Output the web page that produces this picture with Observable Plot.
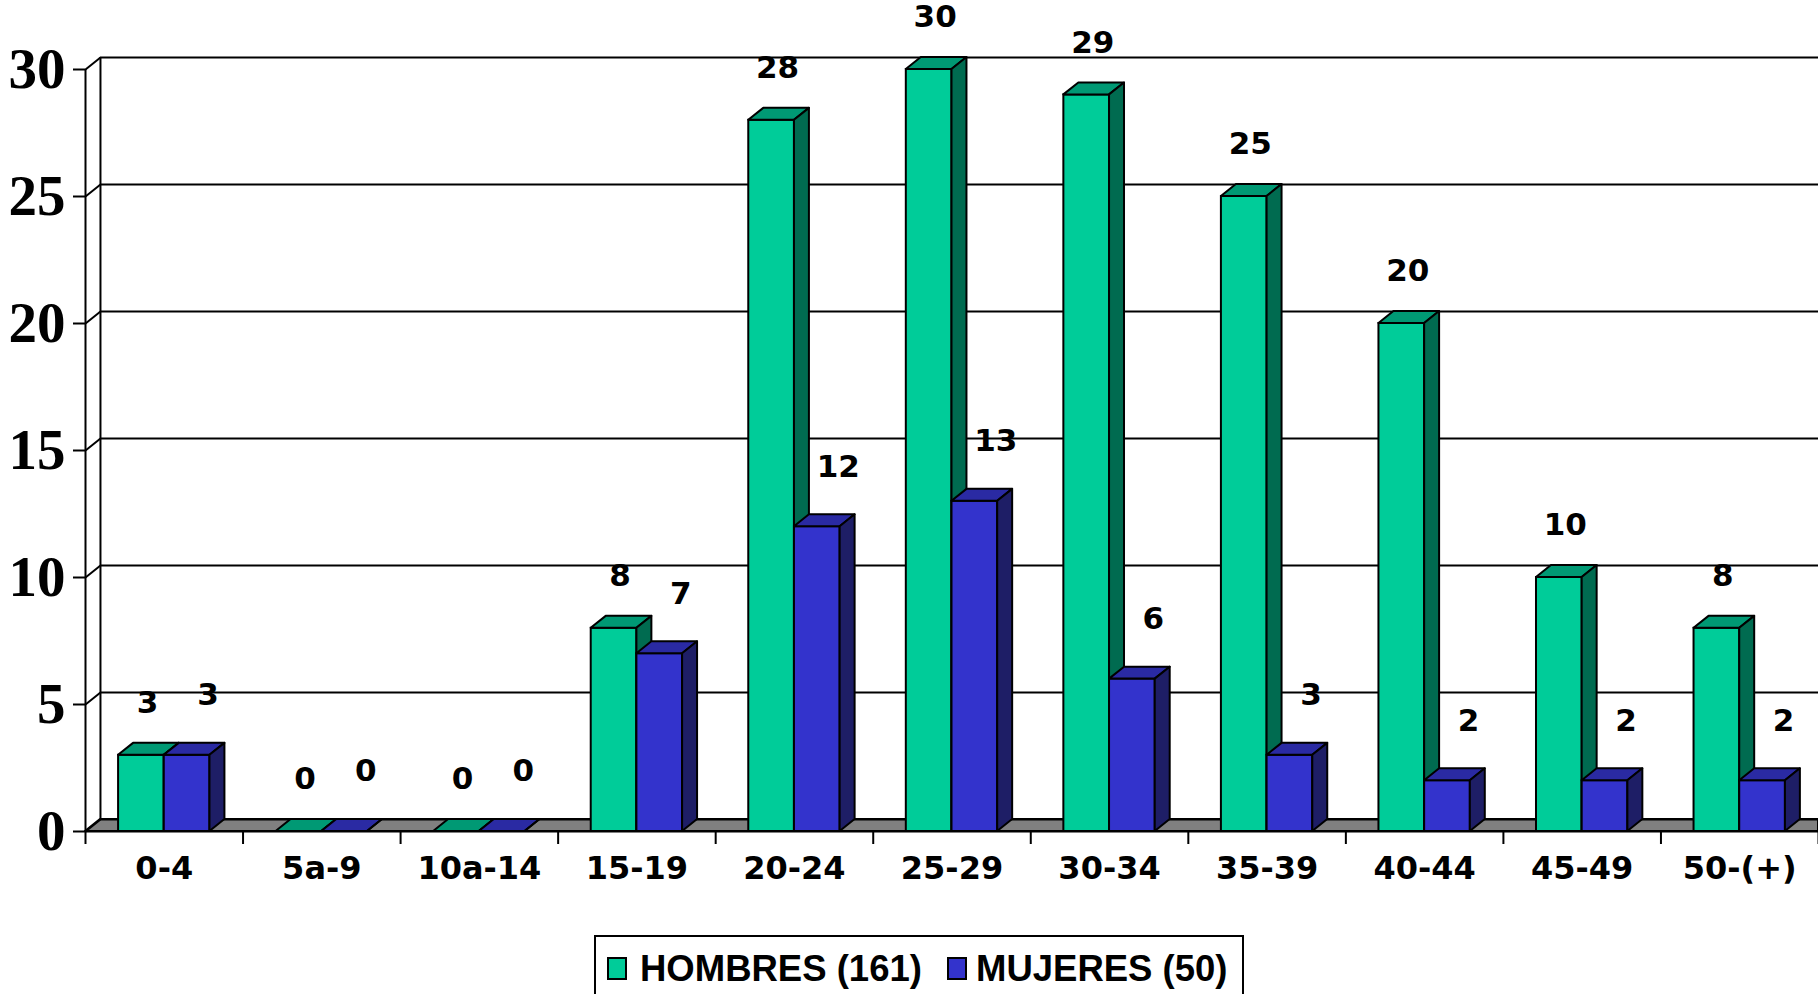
<!DOCTYPE html>
<html>
<head>
<meta charset="utf-8">
<script src="https://cdn.jsdelivr.net/npm/d3@7"></script>
<script src="https://cdn.jsdelivr.net/npm/@observablehq/plot@0.6"></script>
<style>
  html, body { margin: 0; padding: 0; background: #fff; overflow: hidden; }
  #wrap { position: relative; width: 1818px; height: 994px; }
  #legend {
    position: absolute; left: 594px; top: 935px; width: 650px; height: 80px;
    box-sizing: border-box; border: 2px solid #000; background: #fff;
    font-family: "Liberation Sans", Arial, sans-serif; font-weight: bold; font-size: 36.5px;
  }
  .sw { position: absolute; top: 20px; width: 20px; height: 23px; box-sizing: border-box; border: 2px solid #000; }
  .lt { position: absolute; top: 12px; line-height: 40px; white-space: nowrap; color: #000; }
</style>
</head>
<body>
<div id="wrap">
  <div id="chart"></div>
  <div id="legend"></div>
</div>
<script>
// ---- data ----
const categories = ["0-4", "5a-9", "10a-14", "15-19", "20-24", "25-29", "30-34", "35-39", "40-44", "45-49", "50-(+)"];
const hombres = [3, 0, 0, 8, 28, 30, 29, 25, 20, 10, 8];
const mujeres = [3, 0, 0, 7, 12, 13, 6, 3, 2, 2, 2];
const yTicks = [0, 5, 10, 15, 20, 25, 30];
const seriesNames = ["HOMBRES (161)", "MUJERES (50)"];

// ---- styling constants ----
const colors = {
  h: {front: "#00CC99", top: "#009974", side: "#006B50"},
  m: {front: "#3333CC", top: "#2A2AA3", side: "#1E1E66"}
};
const DX = 0.095, DY = 0.47;  // 3D depth in data units
const W = 0.29;               // bar width in category units
const OFF_H = 0.21, OFF_M = 0.50;

function build(values, off) {
  const fronts = values.map((v, i) => ({x1: i + off, x2: i + off + W, y: v, i}));
  const tops = [], sides = [];
  values.forEach((v, i) => {
    const x0 = i + off;
    tops.push({id: i, x: x0, y1: v, y2: v});
    tops.push({id: i, x: x0 + DX, y1: v, y2: v + DY});
    tops.push({id: i, x: x0 + W, y1: v, y2: v + DY});
    tops.push({id: i, x: x0 + W + DX, y1: v + DY, y2: v + DY});
    sides.push({id: i, x: x0 + W, y1: 0, y2: v});
    sides.push({id: i, x: x0 + W + DX, y1: DY, y2: v + DY});
  });
  return {fronts, tops, sides};
}
const H = build(hombres, OFF_H);
const M = build(mujeres, OFF_M);

function barMarks(B, c) {
  return [
    Plot.rect(B.fronts, {x1: "x1", x2: "x2", y1: 0, y2: "y", fill: c.front, stroke: "#000", strokeWidth: 2}),
    Plot.areaY(B.tops, {x: "x", y1: "y1", y2: "y2", z: "id", fill: c.top, stroke: "#000", strokeWidth: 2, strokeLinejoin: "round"}),
    Plot.areaY(B.sides, {x: "x", y1: "y1", y2: "y2", z: "id", fill: c.side, stroke: "#000", strokeWidth: 2, strokeLinejoin: "round"})
  ];
}

const floor = [
  {x: 0, y1: 0, y2: 0},
  {x: DX, y1: 0, y2: DY},
  {x: 11, y1: 0, y2: DY}
];

const labelFont = {fontFamily: "DejaVu Sans, Verdana, sans-serif", fontWeight: "bold"};

const chart = Plot.plot({
  width: 1818,
  height: 920,
  marginLeft: 85,
  marginRight: 0,
  marginTop: 69,
  marginBottom: 89,
  x: {type: "linear", domain: [0, 11], axis: null},
  y: {domain: [0, 30], axis: null},
  style: {background: "white", overflow: "visible"},
  marks: [
    // floor
    Plot.areaY(floor, {x: "x", y1: "y1", y2: "y2", fill: "#808080", stroke: "#000", strokeWidth: 2}),
    // back wall gridlines
    Plot.ruleY(yTicks, {y: d => d + DY, x1: DX, x2: 11, stroke: "#000", strokeWidth: 2}),
    Plot.ruleX([DX], {y1: DY, y2: 30 + DY, stroke: "#000", strokeWidth: 2}),
    Plot.link(yTicks, {x1: 0, y1: d => d, x2: DX, y2: d => d + DY, stroke: "#000", strokeWidth: 2}),
    // front axis lines
    Plot.ruleX([0], {y1: 0, y2: 30, stroke: "#000", strokeWidth: 2}),
    Plot.ruleY([0], {x1: 0, x2: 11, stroke: "#000", strokeWidth: 2}),
    // y axis ticks & labels
    Plot.axisY({ticks: yTicks, tickSize: 12, tickPadding: 8, strokeWidth: 2, label: null,
      fontSize: 57, fontFamily: "Liberation Serif, Times New Roman, serif", fontWeight: "bold"}),
    // x category boundary ticks
    Plot.axisX({ticks: d3.range(12), tickSize: 13, strokeWidth: 2, tickFormat: () => "", label: null}),
    // bars
    ...barMarks(H, colors.h),
    ...barMarks(M, colors.m),
    // value labels
    Plot.text(hombres, {x: (d, i) => i + OFF_H + W / 2, y: d => d, text: d => String(d), dx: 6, dy: -52, fontSize: 31, fill: "#000", ...labelFont}),
    Plot.text(mujeres, {x: (d, i) => i + OFF_M + W / 2, y: d => d, text: d => String(d), dx: 21, dy: -60, fontSize: 31, fill: "#000", ...labelFont}),
    // category labels
    Plot.text(categories, {x: (d, i) => i + 0.5, frameAnchor: "bottom", dy: 47, text: d => d, fontSize: 32, fill: "#000", ...labelFont})
  ]
});
document.getElementById("chart").appendChild(chart);

// legend
const legend = document.getElementById("legend");
const items = [
  {name: seriesNames[0], color: colors.h.front, sw: 11, tx: 44},
  {name: seriesNames[1], color: colors.m.front, sw: 351, tx: 380}
];
items.forEach(it => {
  const s = document.createElement("div");
  s.className = "sw"; s.style.left = it.sw + "px"; s.style.background = it.color;
  legend.appendChild(s);
  const t = document.createElement("div");
  t.className = "lt"; t.style.left = it.tx + "px"; t.textContent = it.name;
  legend.appendChild(t);
});
</script>
</body>
</html>
